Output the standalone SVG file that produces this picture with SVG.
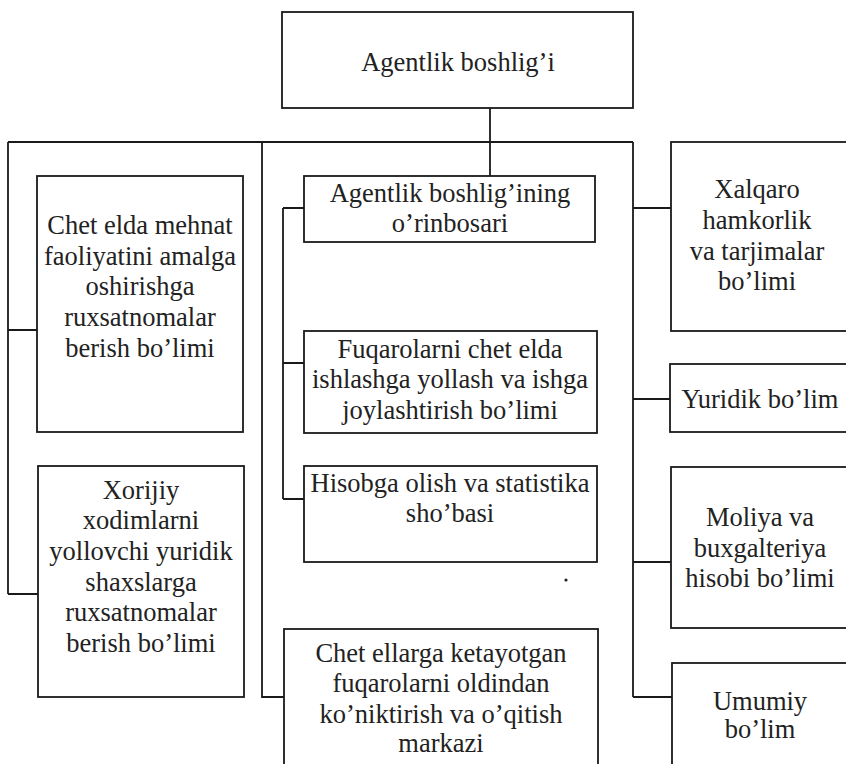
<svg xmlns="http://www.w3.org/2000/svg" width="846" height="764" viewBox="0 0 846 764">
<style>
.box{fill:#fff;stroke:#1a1a1a;stroke-width:1.8}
.ln{fill:none;stroke:#1a1a1a;stroke-width:1.8}
text{font-family:"Liberation Serif","Times New Roman",serif;font-size:26.5px;fill:#222;text-anchor:middle}
</style>
<rect width="846" height="764" fill="#fff"/>
<g id="connectors">
<path class="ln" d="M490 108V176 M8 142H633 M8 142V594 M8 330H37 M8 594H38 M262 142V697H284 M283 208V499 M283 208H304 M283 363H304 M283 499H304 M633 142V697 M633 208H671 M633 399H670 M633 562H671 M633 697H672"/>
</g>
<g id="n-head"><rect class="box" x="282" y="12" width="351" height="96"/><text x="458" y="71">Agentlik boshlig’i</text></g>
<g id="n-ruxsat1"><rect class="box" x="37" y="176" width="206" height="256"/>
<text x="140" y="234">Chet elda mehnat</text><text x="140" y="265">faoliyatini amalga</text><text x="140" y="295">oshirishga</text><text x="140" y="326">ruxsatnomalar</text><text x="140" y="357">berish bo’limi</text></g>
<g id="n-ruxsat2"><rect class="box" x="38" y="466" width="206" height="231"/>
<text x="141" y="499">Xorijiy</text><text x="141" y="529">xodimlarni</text><text x="141" y="560">yollovchi yuridik</text><text x="141" y="591">shaxslarga</text><text x="141" y="621">ruxsatnomalar</text><text x="141" y="652">berish bo’limi</text></g>
<g id="n-orinbosar"><rect class="box" x="304" y="176" width="291" height="66"/>
<text x="450" y="202">Agentlik boshlig’ining</text><text x="450" y="232">o’rinbosari</text></g>
<g id="n-fuqarolar"><rect class="box" x="304" y="331" width="293" height="102"/>
<text x="450" y="358">Fuqarolarni chet elda</text><text x="450" y="388">ishlashga yollash va ishga</text><text x="450" y="419">joylashtirish bo’limi</text></g>
<g id="n-hisob"><rect class="box" x="304" y="466" width="293" height="96"/>
<text x="450" y="492">Hisobga olish va statistika</text><text x="450" y="522">sho’basi</text></g>
<circle cx="566" cy="580" r="1.6" fill="#222"/>
<g id="n-markaz"><rect class="box" x="284" y="629" width="314" height="145"/>
<text x="441" y="662">Chet ellarga ketayotgan</text><text x="441" y="692">fuqarolarni oldindan</text><text x="441" y="723">ko’niktirish va o’qitish</text><text x="441" y="752">markazi</text></g>
<g id="n-xalqaro"><rect class="box" x="671" y="142" width="185" height="189"/>
<text x="757" y="198">Xalqaro</text><text x="757" y="229">hamkorlik</text><text x="757" y="260">va tarjimalar</text><text x="757" y="290">bo’limi</text></g>
<g id="n-yuridik"><rect class="box" x="670" y="364" width="186" height="68"/>
<text x="760" y="408">Yuridik bo’lim</text></g>
<g id="n-moliya"><rect class="box" x="671" y="467" width="185" height="161"/>
<text x="760" y="526">Moliya va</text><text x="760" y="557">buxgalteriya</text><text x="760" y="587">hisobi bo’limi</text></g>
<g id="n-umumiy"><rect class="box" x="672" y="663" width="184" height="111"/>
<text x="760" y="710">Umumiy</text><text x="760" y="738">bo’lim</text></g>
</svg>
